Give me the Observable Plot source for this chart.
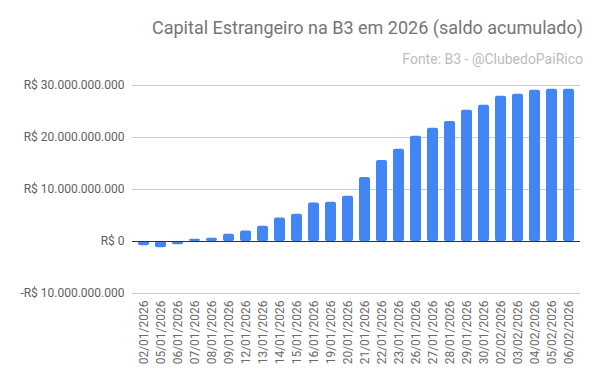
<!DOCTYPE html>
<html>
<head>
<meta charset="utf-8">
<script src="https://cdn.jsdelivr.net/npm/d3@7"></script>
<script src="https://cdn.jsdelivr.net/npm/@observablehq/plot@0.6"></script>
<style>
  html, body { margin: 0; padding: 0; background: #fff; }
  #wrap { position: relative; width: 600px; height: 385px; font-family: Roboto, sans-serif; }
  #title { position: absolute; right: 17px; top: 17px; font-size: 18px; color: #757575; white-space: nowrap; }
  #sub { position: absolute; right: 17px; top: 51px; font-size: 14px; color: #bdbdbd; white-space: nowrap; }
  #chart { position: absolute; left: 0; top: 70px; }
</style>
</head>
<body>
<div id="wrap">
  <div id="title">Capital Estrangeiro na B3 em 2026 (saldo acumulado)</div>
  <div id="sub">Fonte: B3 - @ClubedoPaiRico</div>
  <div id="chart"></div>
</div>
<script>
const dates = ["02/01/2026","05/01/2026","06/01/2026","07/01/2026","08/01/2026","09/01/2026","12/01/2026","13/01/2026","14/01/2026","15/01/2026","16/01/2026","19/01/2026","20/01/2026","21/01/2026","22/01/2026","23/01/2026","26/01/2026","27/01/2026","28/01/2026","29/01/2026","30/01/2026","02/02/2026","03/02/2026","04/02/2026","05/02/2026","06/02/2026"];
// saldo acumulado, em bilhões de R$
const saldoBi = [-0.83,-1.2,-0.64,0.45,0.64,1.4,2.0,2.95,4.5,5.25,7.4,7.55,8.7,12.3,15.6,17.75,20.25,21.8,23.1,25.25,26.2,27.95,28.3,29.1,29.3,29.3];
const yTicks = [-10e9, 0, 10e9, 20e9, 30e9];

const data = dates.map((d, i) => ({date: d, value: saldoBi[i] * 1e9}));

function fmt(v) {
  const s = d3.format(",.0f")(Math.abs(v)).replace(/,/g, ".");
  return (v < 0 ? "-" : "") + "R$ " + s;
}

const chart = Plot.plot({
  width: 600,
  height: 315,
  marginTop: 15,
  marginBottom: 92,
  marginLeft: 132,
  marginRight: 20,
  style: {fontFamily: "Roboto, sans-serif", fontSize: "12px", background: "#fff"},
  x: {domain: dates, paddingInner: 0.35, paddingOuter: 0.32, label: null},
  y: {domain: [-10e9, 30e9], label: null},
  marks: [
    Plot.ruleY(yTicks.filter(t => t !== 0), {stroke: "#cccccc", strokeWidth: 1}),
    Plot.barY(data, {x: "date", y: "value", fill: "#4285f4", rx: 2}),
    Plot.ruleY([0], {stroke: "#333333", strokeWidth: 1}),
    Plot.axisY({ticks: yTicks, tickFormat: fmt, tickSize: 0, tickPadding: 8, color: "#5f5f5f", label: null}),
    Plot.axisX({tickRotate: -90, tickSize: 0, tickPadding: 7, color: "#6a6a6a", label: null})
  ]
});
document.getElementById("chart").appendChild(chart);
</script>
</body>
</html>
